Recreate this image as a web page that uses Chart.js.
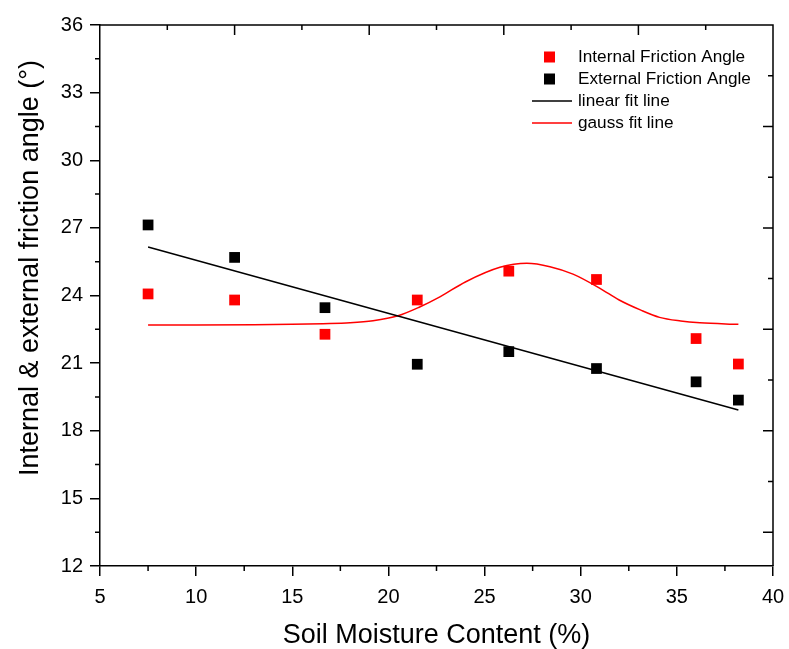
<!DOCTYPE html>
<html lang="en">
<head>
<meta charset="UTF-8">
<title>Friction angle vs soil moisture</title>
<script src="https://cdn.jsdelivr.net/npm/chart.js"></script>
<style>
  body { margin: 0; background: #fff; }
  #wrap { width: 789px; height: 649px; }
</style>
</head>
<body>

<div id="wrap"><canvas id="frictionChart" width="789" height="649"></canvas></div>

<script>
  // soil moisture of the samples (%)
  const moisture = [7.5, 12, 16.7, 21.5, 26.26, 30.82, 36.0, 38.2];
  const internalAngle = [24.07, 23.8, 22.28, 23.8, 25.08, 24.71, 22.09, 20.96];
  const externalAngle = [27.13, 25.69, 23.46, 20.95, 21.51, 20.76, 20.17, 19.36];

  // fit curves
  const linearFitX = [7.5, 38.2];
  const linearFitY = [26.15, 18.92];
  const gaussFitX = [7.5, 10, 13, 15, 16.6, 18, 19.2, 20.5, 21.6, 22.7, 24.0, 25.8, 27.2, 28.4, 29.6, 31.0, 32.0, 33.1, 34.1, 35.2, 36.2, 38.2];
  const gaussFitY = [22.69, 22.69, 22.7, 22.72, 22.75, 22.79, 22.88, 23.1, 23.48, 23.95, 24.6, 25.25, 25.43, 25.28, 24.95, 24.32, 23.8, 23.36, 23.03, 22.87, 22.79, 22.72];

  // extra ticks (minor ticks, and the mirrored top/right axes)
  const xMinor = [7.5, 12.5, 17.5, 22.5, 27.5, 32.5, 37.5];
  const yMinor = [13.5, 16.5, 19.5, 22.5, 25.5, 28.5, 31.5, 34.5];
  const topMajor = [12, 19, 26, 33];
  const topMinor = [8.5, 15.5, 22.5, 29.5, 36.5];
  const rightMajor = [13.5, 18, 22.5, 27, 31.5];
  const rightMinor = [15.75, 20.25, 24.75, 29.25, 33.75];

  const yTitle = 'Internal & external friction angle (°)';
  const FONT = '"Liberation Sans", Arial, Helvetica, sans-serif';

  function toPoints(xs, ys) {
    return xs.map((x, i) => ({ x: x, y: ys[i] }));
  }

  // box around the plot + minor ticks + y title (sits a bit above centre in the original)
  const framePlugin = {
    id: 'frame',
    afterDraw(chart) {
      const ctx = chart.ctx;
      const a = chart.chartArea;
      const x = chart.scales.x, y = chart.scales.y;
      ctx.save();
      ctx.strokeStyle = '#000';
      ctx.lineWidth = 1.5;
      ctx.beginPath();
      ctx.moveTo(a.left, a.top);
      ctx.lineTo(a.right, a.top);
      ctx.lineTo(a.right, a.bottom);

      xMinor.forEach(v => {
        let px = x.getPixelForValue(v);
        ctx.moveTo(px, a.bottom); ctx.lineTo(px, a.bottom + 5);
      });
      yMinor.forEach(v => {
        let py = y.getPixelForValue(v);
        ctx.moveTo(a.left, py); ctx.lineTo(a.left - 5, py);
      });
      topMajor.forEach(v => {
        let px = x.getPixelForValue(v);
        ctx.moveTo(px, a.top); ctx.lineTo(px, a.top + 10);
      });
      topMinor.forEach(v => {
        let px = x.getPixelForValue(v);
        ctx.moveTo(px, a.top); ctx.lineTo(px, a.top + 5);
      });
      rightMajor.forEach(v => {
        let py = y.getPixelForValue(v);
        ctx.moveTo(a.right, py); ctx.lineTo(a.right - 10, py);
      });
      rightMinor.forEach(v => {
        let py = y.getPixelForValue(v);
        ctx.moveTo(a.right, py); ctx.lineTo(a.right - 5, py);
      });
      ctx.stroke();

      ctx.translate(31, a.top + 243);
      ctx.rotate(-Math.PI / 2);
      ctx.font = '27px ' + FONT;
      ctx.fillStyle = '#000';
      ctx.textAlign = 'center';
      ctx.textBaseline = 'middle';
      ctx.fillText(yTitle, 0, 0);
      ctx.restore();
    }
  };

  // legend drawn inside the plot, top right
  const insideLegend = {
    id: 'insideLegend',
    afterDraw(chart) {
      const ctx = chart.ctx;
      const a = chart.chartArea;
      let left = a.right - 241;
      ctx.save();
      ctx.font = '17.2px ' + FONT;
      ctx.textBaseline = 'middle';
      chart.data.datasets.forEach((ds, i) => {
        let rowY = a.top + 32 + i * 22;
        if (ds.showLine) {
          ctx.strokeStyle = ds.borderColor;
          ctx.lineWidth = 1.5;
          ctx.beginPath();
          ctx.moveTo(left, rowY);
          ctx.lineTo(left + 40, rowY);
          ctx.stroke();
        } else {
          ctx.fillStyle = ds.backgroundColor;
          ctx.fillRect(left + 12, rowY - 5.5, 11, 11);
        }
        ctx.fillStyle = '#000';
        ctx.fillText(ds.label, left + 46, rowY);
      });
      ctx.restore();
    }
  };

  const ctx = document.getElementById('frictionChart').getContext('2d');
  new Chart(ctx, {
    type: 'scatter',
    data: {
      datasets: [
        {
          label: 'Internal Friction Angle',
          data: toPoints(moisture, internalAngle),
          backgroundColor: '#ff0000',
          borderWidth: 0,
          pointStyle: 'rect',
          pointRadius: 7.6
        },
        {
          label: 'External Friction Angle',
          data: toPoints(moisture, externalAngle),
          backgroundColor: '#000000',
          borderWidth: 0,
          pointStyle: 'rect',
          pointRadius: 7.6
        },
        {
          label: 'linear fit line',
          data: toPoints(linearFitX, linearFitY),
          showLine: true,
          borderColor: '#000000',
          borderWidth: 1.5,
          pointRadius: 0
        },
        {
          label: 'gauss fit line',
          data: toPoints(gaussFitX, gaussFitY),
          showLine: true,
          borderColor: '#ff0000',
          borderWidth: 1.5,
          pointRadius: 0,
          cubicInterpolationMode: 'monotone'
        }
      ]
    },
    options: {
      responsive: false,
      animation: false,
      layout: { padding: { top: 25, right: 16, left: 0, bottom: 0 } },
      plugins: {
        legend: { display: false },
        tooltip: { enabled: false }
      },
      scales: {
        x: {
          type: 'linear',
          min: 5,
          max: 40,
          ticks: { stepSize: 5, color: '#000', padding: 9.5, maxRotation: 0, font: { family: FONT, size: 20 } },
          grid: { drawOnChartArea: false, tickLength: 10, color: '#000', lineWidth: 1.5 },
          border: { color: '#000', width: 1.5 },
          title: {
            display: true,
            text: 'Soil Moisture Content (%)',
            color: '#000',
            font: { family: FONT, size: 27, lineHeight: 1 },
            padding: { top: 0, bottom: 0 }
          },
          afterFit(scale) {
            scale.height = 83;
            scale.paddingLeft = 0;
            scale.paddingRight = 0;
          }
        },
        y: {
          type: 'linear',
          min: 12,
          max: 36,
          ticks: { stepSize: 3, color: '#000', padding: 7, font: { family: FONT, size: 20 } },
          grid: { drawOnChartArea: false, tickLength: 10, color: '#000', lineWidth: 1.5 },
          border: { color: '#000', width: 1.5 },
          afterFit(scale) {
            scale.width = 100;
            scale.paddingTop = 0;
            scale.paddingBottom = 0;
          }
        }
      }
    },
    plugins: [framePlugin, insideLegend]
  });
</script>

</body>
</html>
